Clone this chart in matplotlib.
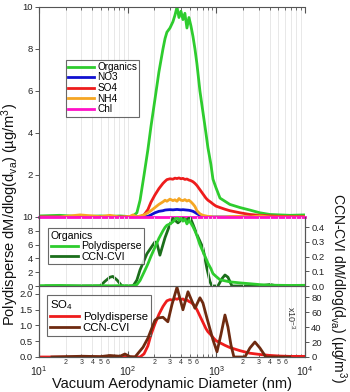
import matplotlib
matplotlib.use("Agg")
import matplotlib.pyplot as plt
import numpy as np
from matplotlib.ticker import FixedLocator, NullFormatter, FixedFormatter

plt.rcParams['font.family'] = ['Liberation Sans', 'DejaVu Sans']
plt.rcParams['mathtext.fontset'] = 'custom'
plt.rcParams['mathtext.rm'] = 'Liberation Sans'
plt.rcParams['mathtext.it'] = 'Liberation Sans'

# ---- data (diameter in nm, mass in ug/m3) ----
diam = [10, 17, 29, 49, 63, 82, 106, 115, 127, 138, 153, 169, 183, 203, 225, 250, 264, 277,
        300, 324, 341, 360, 379, 399, 420, 442, 466, 491, 517, 545, 574, 604, 653, 706, 763,
        804, 869, 916, 990, 1100, 1250, 1420, 1850, 2390, 3100, 4020, 5210, 6750, 10000]
organics = [0.05, 0.08, 0.02, 0.05, 0.03, 0.05, 0.02, 0.05, 0.2, 0.8, 2.0, 3.2, 4.3, 5.6, 6.9, 8.0,
            8.5, 8.8, 9.0, 9.3, 9.6, 10.0, 9.5, 9.8, 9.4, 9.7, 9.0, 9.5, 9.1, 8.6, 8.0, 7.3, 6.0,
            5.0, 4.0, 3.3, 2.5, 1.8, 1.4, 0.9, 0.75, 0.6, 0.45, 0.33, 0.2, 0.12, 0.1, 0.08, 0.1]
no3 = [0, 0, 0, 0, 0, 0, 0, 0, 0, 0, 0, 0.03, 0.1, 0.2, 0.27, 0.3, 0.33, 0.34, 0.35, 0.34, 0.35,
       0.36, 0.35, 0.34, 0.35, 0.34, 0.33, 0.32, 0.3, 0.27, 0.22, 0.16, 0.08, 0.03, 0, 0, 0, 0,
       0, 0, 0, 0, 0, 0, 0, 0, 0, 0, 0]
so4 = [0, 0, 0, 0, 0, 0, 0, 0, 0, 0.0, 0.1, 0.35, 0.7, 1.05, 1.35, 1.6, 1.7, 1.78, 1.82, 1.8, 1.85,
       1.83, 1.86, 1.82, 1.84, 1.79, 1.81, 1.76, 1.73, 1.68, 1.6, 1.5, 1.3, 1.1, 0.9, 0.8, 0.7,
       0.62, 0.52, 0.45, 0.37, 0.3, 0.2, 0.12, 0.08, 0.05, 0.03, 0.02, 0.02]
nh4 = [0, 0, 0.1, 0.02, 0.08, 0.0, 0.03, 0.1, 0.0, 0.05, 0.1, 0.2, 0.3, 0.45, 0.6, 0.72, 0.8, 0.75,
       0.85, 0.78, 0.82, 0.75, 0.88, 0.8, 0.78, 0.83, 0.76, 0.8, 0.72, 0.62, 0.5, 0.3, 0.15, 0.08,
       0.05, 0.03, 0.02, 0.0, 0.0, 0.0, 0.0, 0.02, 0.03, 0.0, 0.05, 0.0, 0.0, 0.0, 0.0]
chl = [0.0] * len(diam)

diam_ccn_org = [12, 38, 49, 55, 63, 68, 76, 86, 115, 127, 138, 165, 203, 214, 231, 264, 300, 324,
                369, 420, 466, 504, 545, 604, 706, 783, 847, 892, 1042, 1157, 1251, 1352, 1500,
                3100, 4020, 4940, 10000]
ccn_org = [0, 0, 0.0, 0.03, 0.06, 0.065, 0.04, 0.0, 0.0, 0.04, 0.11, 0.22, 0.30, 0.29, 0.21, 0.33,
           0.42, 0.46, 0.43, 0.46, 0.45, 0.47, 0.42, 0.35, 0.26, 0.12, 0.03, 0.0, 0.0, 0.05, 0.075,
           0.06, 0.0, 0.0, 0.01, 0.0, 0.0]

diam_ccn_so4 = [14, 31, 49, 63, 82, 93, 106, 121, 149, 169, 203, 220, 250, 284, 316, 360, 420, 479,
                574, 653, 706, 783, 916, 1017, 1127, 1251, 1352, 1462, 1579, 2099, 2391, 2722,
                3100, 3622, 6750]
ccn_so4_e3 = [0, 1, 0.5, 2, 1, 4, 0.5, 0, 13, 25, 49, 52, 53, 47, 70, 93, 63, 87, 65, 79, 72, 52,
              23, 7, 30, 56, 40, 16, 0, 0, 12, 20, 12, 0, 0]

# ---- styling ----
c_org = '#2ecc2e'
c_no3 = '#1010d0'
c_so4 = '#ee1c1c'
c_nh4 = '#f5a623'
c_chl = '#ff10c8'
c_dkg = '#1b6e1b'
c_brn = '#6e2a10'
spine_c = '#555555'
grid_c = '#e4e4e4'
lw = 2.0
tick_fs = 6.8

fig = plt.figure(figsize=(3.5, 3.92), dpi=100)
L, W = 39 / 350, 266 / 350
ax_top = fig.add_axes([L, 1 - 217 / 392, W, 210 / 392])
ax_mid = fig.add_axes([L, 1 - 286 / 392, W, 69 / 392], sharex=ax_top)
ax_bot = fig.add_axes([L, 1 - 357 / 392, W, 71 / 392], sharex=ax_top)
ax_mid_r = ax_mid.twinx()
ax_bot_r = ax_bot.twinx()

majors = [10, 100, 1000, 10000]
minors = [m * 10 ** e for e in range(1, 4) for m in range(2, 10)]

for ax in (ax_top, ax_mid, ax_bot):
    ax.set_xscale('log')
    ax.set_xlim(10, 10000)
    for x in majors[1:-1] + minors:
        ax.axvline(x, color=grid_c, lw=0.6, zorder=0)
    for s in ax.spines.values():
        s.set_color(spine_c)
        s.set_linewidth(0.8)
    ax.tick_params(axis='y', direction='out', colors=spine_c, labelcolor='#222222',
                   labelsize=tick_fs, length=3, width=0.7, pad=1.5)

# top panel
ax_top.plot(diam, organics, color=c_org, lw=lw, label='Organics')
ax_top.plot(diam, no3, color=c_no3, lw=lw, label='NO3')
ax_top.plot(diam, so4, color=c_so4, lw=lw, label='SO4')
ax_top.plot(diam, nh4, color=c_nh4, lw=lw, label='NH4')
ax_top.plot(diam, chl, color=c_chl, lw=lw, label='Chl', clip_on=False)
ax_top.set_ylim(0, 10)
ax_top.set_yticks([2, 4, 6, 8, 10])
ax_top.spines['right'].set_visible(False)
ax_top.spines['bottom'].set_visible(False)
ax_top.tick_params(axis='x', which='both', bottom=False, top=True, labelbottom=False,
                   direction='in', colors=spine_c)
ax_top.tick_params(axis='x', which='major', length=4)
ax_top.tick_params(axis='x', which='minor', length=2.5)
leg = ax_top.legend(loc='upper left', bbox_to_anchor=(0.10, 0.75), fontsize=7.2,
                    handlelength=2.6, handletextpad=0.3, labelspacing=0.05,
                    borderpad=0.25, borderaxespad=0, fancybox=False, frameon=True)
leg.get_frame().set_edgecolor('#444444')
leg.get_frame().set_linewidth(0.8)

# middle panel
h1, = ax_mid.plot(diam, organics, color=c_org, lw=lw, label='Polydisperse')
h2, = ax_mid_r.plot(diam_ccn_org, ccn_org, color=c_dkg, lw=lw, label='CCN-CVI')
ax_mid.set_ylim(0, 10)
ax_mid.set_yticks([0, 2, 4, 6, 8, 10])
ax_mid_r.set_ylim(0, 0.47)
ax_mid_r.set_yticks([0.0, 0.1, 0.2, 0.3, 0.4])
ax_mid_r.set_yticklabels(['0.0', '0.1', '0.2', '0.3', '0.4'])
ax_mid.spines['top'].set_visible(False)
ax_mid_r.spines['top'].set_visible(False)
ax_mid.tick_params(axis='x', which='both', bottom=False, top=False, labelbottom=False)
leg2 = ax_mid.legend([h1, h2], ['Polydisperse', 'CCN-CVI'], title='Organics',
                     loc='upper left', bbox_to_anchor=(0.034, 0.84), fontsize=7.6,
                     title_fontsize=7.6, handlelength=2.6, handletextpad=0.3,
                     labelspacing=0.05, borderpad=0.25, borderaxespad=0, fancybox=False,
                     alignment='left')
leg2.get_frame().set_edgecolor('#444444')
leg2.get_frame().set_linewidth(0.8)
ax_mid.set_zorder(ax_mid_r.get_zorder() + 1)
ax_mid.patch.set_visible(False)

# bottom panel
h3, = ax_bot.plot(diam, so4, color=c_so4, lw=lw, label='Polydisperse')
h4, = ax_bot_r.plot(diam_ccn_so4, ccn_so4_e3, color=c_brn, lw=lw, label='CCN-CVI')
ax_bot.set_ylim(0, 2.25)
ax_bot.set_yticks([0.0, 0.5, 1.0, 1.5, 2.0])
ax_bot.set_yticklabels(['0.0', '0.5', '1.0', '1.5', '2.0'])
ax_bot_r.set_ylim(0, 94.7)
ax_bot_r.set_yticks([0, 20, 40, 60, 80])
ax_bot.spines['top'].set_visible(False)
ax_bot_r.spines['top'].set_visible(False)
for axr in (ax_mid_r, ax_bot_r):
    for s in axr.spines.values():
        s.set_color(spine_c)
        s.set_linewidth(0.8)
    axr.tick_params(axis='y', direction='out', colors=spine_c, labelcolor='#222222',
                    labelsize=tick_fs, length=3, width=0.7, pad=1.5)
ax_bot_r.text(0.945, 0.55, 'x10$^{-3}$', transform=ax_bot_r.transAxes, rotation=270,
              fontsize=6.5, color='#333333', ha='center', va='center')
leg3 = ax_bot.legend([h3, h4], ['Polydisperse', 'CCN-CVI'], title='SO$_4$',
                     loc='upper left', bbox_to_anchor=(0.03, 0.875), fontsize=8.2,
                     title_fontsize=8.2, handlelength=2.6, handletextpad=0.3,
                     labelspacing=0.05, borderpad=0.25, borderaxespad=0, fancybox=False,
                     alignment='left')
leg3.get_frame().set_edgecolor('#444444')
leg3.get_frame().set_linewidth(0.8)

ax_bot.xaxis.set_major_locator(FixedLocator(majors))
ax_bot.xaxis.set_minor_locator(FixedLocator(minors))
ax_bot.xaxis.set_major_formatter(FixedFormatter(['$10^{1}$', '$10^{2}$', '$10^{3}$', '$10^{4}$']))
minor_labels = [str(m) if m <= 6 else '' for e in range(1, 4) for m in range(2, 10)]
ax_bot.xaxis.set_minor_formatter(FixedFormatter(minor_labels))
ax_bot.tick_params(axis='x', which='major', direction='in', length=4, colors=spine_c,
                   labelcolor='#222222', labelsize=7.5, pad=5)
ax_bot.tick_params(axis='x', which='minor', direction='in', length=2.5, colors=spine_c,
                   labelcolor='#333333', labelsize=5, pad=1.5)

fig.text(10 / 350, 1 - 215 / 392, 'Polydisperse dM/dlog(d$_{\\mathrm{va}}$) (\u00b5g/m$^{3}$)',
         rotation=90, ha='center', va='center', fontsize=10.5, color='#111111')
fig.text(338 / 350, 1 - 288 / 392, 'CCN-CVI dM/dlog(d$_{\\mathrm{va}}$) (\u00b5g/m$^{3}$)',
         rotation=270, ha='center', va='center', fontsize=10, color='#111111')
fig.text(172 / 350, 1 - 384 / 392, 'Vacuum Aerodynamic Diameter (nm)', ha='center',
         va='center', fontsize=10.5, color='#111111')

fig.savefig('out.png', dpi=100)
